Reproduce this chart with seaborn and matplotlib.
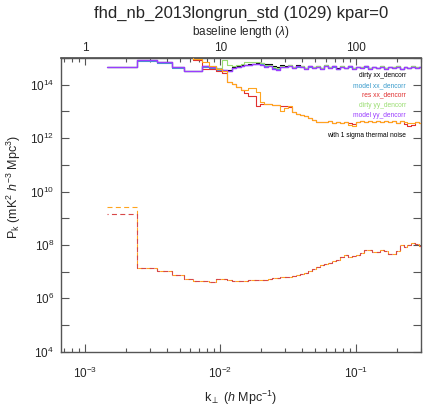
import numpy as np
import pandas as pd
import matplotlib
matplotlib.use("Agg")
import matplotlib.pyplot as plt
import matplotlib.ticker as mticker
import seaborn as sns

# Left edges of the k_perp bins (h/Mpc)
k_perp = [0.001455, 0.002425, 0.003395, 0.004365, 0.005335, 0.006305, 0.007275, 0.008245, 0.009215, 0.010185,
          0.011155, 0.012125, 0.013095, 0.014065, 0.015, 0.016, 0.0172, 0.0184, 0.0197, 0.021,
          0.0226, 0.0242, 0.0259, 0.0277, 0.0296, 0.0317, 0.0339, 0.0363, 0.0388, 0.0415,
          0.0444, 0.0475, 0.0508, 0.0544, 0.0582, 0.0623, 0.0666, 0.0713, 0.0763, 0.0816,
          0.0873, 0.0934, 0.1, 0.107, 0.1145, 0.1225, 0.131, 0.14, 0.15, 0.16,
          0.172, 0.184, 0.197, 0.21, 0.225, 0.24, 0.257, 0.275, 0.294, 0.315]

# log10 of the 1D power per bin
log_dirty_xx = [14.66, 14.93, 14.84, 14.65, 14.51, 14.51, 14.69, 14.67, 14.60, 14.56,
                14.55, 14.66, 14.70, 14.73, 14.75, 14.77, 14.79, 14.80, 14.80, 14.76,
                14.76, 14.70, 14.66, 14.72, 14.70, 14.74, 14.68, 14.72, 14.70, 14.64,
                14.71, 14.67, 14.70, 14.63, 14.72, 14.66, 14.71, 14.61, 14.69, 14.64,
                14.70, 14.62, 14.67, 14.66, 14.70, 14.62, 14.67, 14.64, 14.69, 14.62,
                14.67, 14.66, 14.69, 14.60, 14.67, 14.64, 14.69, 14.66, 14.67, 14.67]
log_model_xx = [14.66, 14.88, 14.82, 14.64, 14.50, 14.50, 14.66, 14.62, 14.55, 14.52,
                14.52, 14.63, 14.67, 14.70, 14.72, 14.74, 14.76, 14.78, 14.76, 14.70,
                14.72, 14.62, 14.58, 14.68, 14.66, 14.70, 14.64, 14.68, 14.67, 14.61,
                14.68, 14.64, 14.67, 14.61, 14.70, 14.64, 14.68, 14.59, 14.67, 14.62,
                14.68, 14.61, 14.66, 14.64, 14.68, 14.61, 14.66, 14.62, 14.67, 14.61,
                14.66, 14.64, 14.67, 14.59, 14.66, 14.62, 14.67, 14.64, 14.66, 14.66]
log_res_xx = [15.50, 15.50, 15.50, 15.40, 15.30, 14.94, 14.59, 14.59, 14.53, 14.44,
              14.12, 14.03, 13.90, 13.81, 13.69, 13.56, 13.56, 13.19, 13.29, 13.28,
              13.28, 13.25, 13.23, 13.22, 13.22, 13.15, 12.99, 12.90, 12.87, 12.84,
              12.76, 12.69, 12.62, 12.62, 12.59, 12.63, 12.57, 12.61, 12.56, 12.59,
              12.57, 12.54, 12.61, 12.63, 12.61, 12.65, 12.59, 12.63, 12.61, 12.65,
              12.59, 12.63, 12.57, 12.63, 12.54, 12.44, 12.48, 12.59, 12.56, 12.56]
log_dirty_yy = [14.66, 14.93, 14.84, 14.65, 14.51, 14.51, 14.70, 14.69, 14.63, 14.94,
                14.75, 14.70, 14.72, 14.76, 14.84, 14.85, 14.86, 14.85, 14.80, 14.74,
                14.73, 14.66, 14.62, 14.70, 14.68, 14.73, 14.66, 14.71, 14.70, 14.62,
                14.71, 14.66, 14.70, 14.62, 14.73, 14.66, 14.71, 14.60, 14.70, 14.64,
                14.71, 14.62, 14.68, 14.66, 14.71, 14.62, 14.68, 14.64, 14.70, 14.62,
                14.68, 14.66, 14.70, 14.60, 14.68, 14.64, 14.70, 14.66, 14.68, 14.68]
log_model_yy = [14.66, 14.94, 14.84, 14.65, 14.51, 14.51, 14.69, 14.68, 14.60, 14.54,
                14.53, 14.64, 14.68, 14.71, 14.73, 14.75, 14.77, 14.79, 14.75, 14.68,
                14.71, 14.60, 14.56, 14.68, 14.66, 14.71, 14.64, 14.69, 14.68, 14.60,
                14.69, 14.64, 14.68, 14.60, 14.71, 14.64, 14.69, 14.58, 14.68, 14.62,
                14.69, 14.60, 14.66, 14.64, 14.69, 14.60, 14.66, 14.62, 14.68, 14.60,
                14.66, 14.64, 14.68, 14.58, 14.66, 14.62, 14.68, 14.64, 14.66, 14.66]
log_res_yy = [15.50, 15.50, 15.50, 15.40, 15.30, 14.97, 14.85, 14.71, 14.60, 14.50,
              14.12, 14.03, 13.90, 13.81, 13.81, 13.88, 13.88, 13.74, 13.37, 13.28,
              13.28, 13.25, 13.23, 13.00, 13.14, 13.19, 12.99, 12.90, 12.87, 12.84,
              12.76, 12.69, 12.62, 12.62, 12.59, 12.63, 12.57, 12.61, 12.56, 12.59,
              12.50, 12.44, 12.61, 12.63, 12.61, 12.65, 12.59, 12.63, 12.61, 12.65,
              12.59, 12.63, 12.57, 12.63, 12.61, 12.56, 12.57, 12.59, 12.56, 12.56]
log_noise_xx = [9.17, 7.12, 7.01, 6.87, 6.71, 6.65, 6.64, 6.62, 6.71, 6.72,
                6.70, 6.65, 6.64, 6.65, 6.65, 6.68, 6.69, 6.68, 6.68, 6.70,
                6.73, 6.75, 6.76, 6.78, 6.80, 6.81, 6.83, 6.86, 6.91, 6.96,
                7.02, 7.09, 7.16, 7.23, 7.28, 7.33, 7.38, 7.45, 7.53, 7.61,
                7.53, 7.60, 7.63, 7.69, 7.80, 7.81, 7.74, 7.72, 7.82, 7.76,
                7.66, 7.65, 7.78, 7.98, 7.92, 7.99, 8.06, 8.04, 7.97, 7.97]
log_noise_yy = [9.43, 7.12, 7.01, 6.87, 6.71, 6.65, 6.64, 6.62, 6.71, 6.72,
                6.70, 6.65, 6.64, 6.65, 6.65, 6.68, 6.69, 6.68, 6.68, 6.70,
                6.73, 6.75, 6.76, 6.78, 6.80, 6.81, 6.83, 6.86, 6.91, 6.96,
                7.02, 7.09, 7.16, 7.23, 7.28, 7.33, 7.38, 7.45, 7.53, 7.61,
                7.53, 7.60, 7.63, 7.69, 7.80, 7.81, 7.74, 7.72, 7.82, 7.76,
                7.66, 7.65, 7.78, 7.98, 7.92, 7.99, 8.06, 8.04, 7.97, 7.97]

legend_labels = ["dirty xx_dencorr", "model xx_dencorr", "res xx_dencorr",
                 "dirty yy_dencorr", "model yy_dencorr"]
legend_colors = ["#000000", "#3a9ccc", "#e03030", "#99dd70", "#9a3cff"]
line_widths = [0.8, 0.8, 0.8, 0.8, 1.0]
orange = "#ffa41f"

baseline_major = [1, 10, 100]
baseline_minor = [0.7, 0.8, 0.9, 2, 3, 4, 5, 6, 7, 8, 9, 20, 30, 40, 50, 60, 70, 80, 90, 200, 300]

sns.set_theme(style="ticks")
plt.rcParams["font.family"] = ["Liberation Sans", "DejaVu Sans"]
plt.rcParams["mathtext.fontset"] = "custom"
plt.rcParams["mathtext.rm"] = "Liberation Sans"
plt.rcParams["mathtext.it"] = "Liberation Sans:italic"
plt.rcParams["mathtext.bf"] = "Liberation Sans:bold"

fig = plt.figure(figsize=(4.43, 4.18), dpi=100)
ax = fig.add_axes([0.1377, 0.1586, 0.8126, 0.7026])
ax.set_xscale("log")
ax.set_yscale("log")

LW = 0.8
solid_series = [log_dirty_xx, log_model_xx, log_res_xx, log_dirty_yy, log_model_yy]
for i, (vals, col, w) in enumerate(zip(solid_series, legend_colors, line_widths)):
    sns.lineplot(x=k_perp, y=10.0 ** np.array(vals), color=col, lw=w,
                 drawstyle="steps-post", estimator=None, sort=False, ax=ax,
                 zorder=2 + 0.1 * i)
sns.lineplot(x=k_perp, y=10.0 ** np.array(log_res_yy), color=orange, lw=LW,
             drawstyle="steps-post", estimator=None, sort=False, ax=ax, zorder=2.6)

# thermal noise, dashed
sns.lineplot(x=k_perp, y=10.0 ** np.array(log_noise_yy), color=orange, lw=LW,
             drawstyle="steps-post", estimator=None, sort=False, ax=ax,
             linestyle=(0, (4.5, 3.0)), zorder=2.7)
sns.lineplot(x=k_perp, y=10.0 ** np.array(log_noise_xx), color="#d84848", lw=LW,
             drawstyle="steps-post", estimator=None, sort=False, ax=ax,
             linestyle=(3.5, (4.5, 3.0)), zorder=2.8)

ax.set_xlim(6.65e-4, 0.302)
ax.set_ylim(1e4, 1e15)

# axes frame
for sp in ax.spines.values():
    sp.set_color("#555555")
    sp.set_linewidth(1.0)
    sp.set_visible(True)

ax.yaxis.set_major_locator(mticker.FixedLocator([10.0 ** e for e in range(4, 16)]))
ax.yaxis.set_minor_locator(mticker.NullLocator())
ax.yaxis.set_major_formatter(mticker.FuncFormatter(
    lambda v, p: r"$10^{%d}$" % round(np.log10(v)) if round(np.log10(v)) % 2 == 0 and v < 1e15 else ""))
ax.xaxis.set_major_locator(mticker.LogLocator(base=10, numticks=10))
ax.xaxis.set_minor_locator(mticker.LogLocator(base=10, subs=np.arange(2, 10), numticks=20))
ax.xaxis.set_minor_formatter(mticker.NullFormatter())

ax.tick_params(axis="both", which="major", direction="in", length=6, width=0.8,
               color="#555555", labelsize=8.5, pad=5)
ax.tick_params(axis="x", which="minor", direction="in", length=3, width=0.8, color="#555555")
ax.tick_params(top=False, right=True, labelright=False, which="both")
ax.tick_params(axis="x", which="major", pad=10)

ax.set_xlabel(r"k$_{\perp}$ ($h$ Mpc$^{-1}$)", fontsize=9, labelpad=6)
ax.set_ylabel(r"P$_\mathrm{k}$ (mK$^2$ $h^{-3}$ Mpc$^3$)", fontsize=9, labelpad=2)
ax.yaxis.set_label_coords(-0.105, 0.56)

# baseline length axis on top
sec = ax.secondary_xaxis("top", functions=(lambda k: k * 1e3, lambda b: b / 1e3))
sec.xaxis.set_major_locator(mticker.FixedLocator(baseline_major))
sec.xaxis.set_minor_locator(mticker.FixedLocator(baseline_minor))
sec.xaxis.set_major_formatter(mticker.FuncFormatter(lambda v, p: "%g" % v))
sec.xaxis.set_minor_formatter(mticker.NullFormatter())
sec.tick_params(axis="x", which="major", direction="in", length=5, width=0.8,
                color="#555555", labelsize=8.5, pad=3)
sec.tick_params(axis="x", which="minor", direction="in", length=3, width=0.8, color="#555555")
sec.spines["top"].set_color("#555555")
sec.set_xlabel(r"baseline length ($\lambda$)", fontsize=8.5, labelpad=5)

fig.text(0.545, 0.968, "fhd_nb_2013longrun_std (1029) kpar=0", ha="center", va="center",
         fontsize=12)

# series key
key_y = [0.9397, 0.9057, 0.8733, 0.8399, 0.8059]
for lab, col, yy in zip(legend_labels, legend_colors, key_y):
    ax.text(0.958, yy, lab, color=col, fontsize=4.8, ha="right", va="center",
            transform=ax.transAxes)
ax.text(0.958, 0.7378, "with 1 sigma thermal noise", color="black", fontsize=4.8,
        ha="right", va="center", transform=ax.transAxes)

fig.savefig("out.png", dpi=100)
